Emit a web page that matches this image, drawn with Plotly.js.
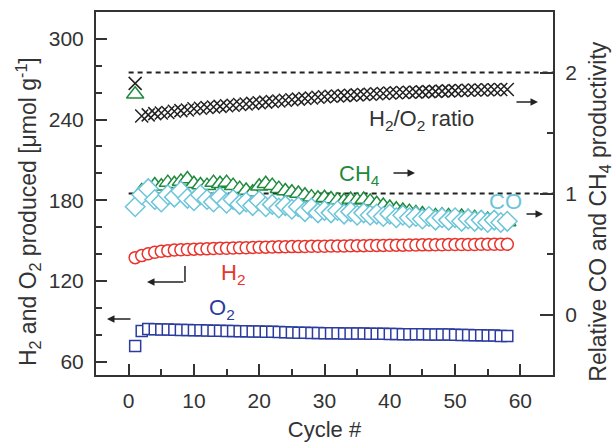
<!DOCTYPE html>
<html>
<head>
<meta charset="utf-8">
<script src="https://cdn.plot.ly/plotly-3.0.1.min.js"></script>
<style>html,body{margin:0;padding:0;background:#fff;}#chart{width:615px;height:442px;}</style>
</head>
<body>
<div id="chart"></div>
<script>
// ---- data ----
var cycles = [1,2,3,4,5,6,7,8,9,10,11,12,13,14,15,16,17,18,19,20,21,22,23,24,25,26,27,28,29,30,
              31,32,33,34,35,36,37,38,39,40,41,42,43,44,45,46,47,48,49,50,51,52,53,54,55,56,57,58];
var ratioCycles = cycles;

var h2 = [137.3,138.8,140.2,141.3,142.0,142.5,142.9,143.2,143.4,143.6,
          143.8,143.9,144.1,144.2,144.3,144.5,144.6,144.7,144.9,145.0,
          145.1,145.2,145.3,145.4,145.5,145.5,145.6,145.7,145.7,145.8,
          145.9,146.0,146.0,146.1,146.2,146.2,146.3,146.4,146.4,146.5,
          146.6,146.6,146.7,146.7,146.8,146.8,146.9,146.9,147.0,147.0,
          147.0,147.1,147.1,147.2,147.2,147.2,147.3,147.3];

var o2 = [71.6,82.8,84.2,84.0,83.8,83.8,83.6,83.5,83.4,83.3,
          83.2,83.1,83.0,82.9,82.8,82.7,82.6,82.5,82.4,82.3,
          82.2,82.1,82.0,81.8,81.6,81.5,81.4,81.3,81.2,81.1,
          81.0,81.0,80.9,80.9,80.8,80.8,80.7,80.7,80.6,80.5,
          80.5,80.4,80.4,80.3,80.3,80.2,80.2,80.1,80.1,80.0,
          79.8,79.7,79.6,79.5,79.4,79.3,79.1,79.0];

var ratio = [1.91,1.64,1.65,1.66,1.665,1.67,1.68,1.685,1.69,1.70,
             1.705,1.71,1.715,1.72,1.725,1.73,1.735,1.74,1.745,1.75,
             1.755,1.76,1.765,1.77,1.775,1.78,1.785,1.79,1.795,1.80,
             1.803,1.806,1.809,1.812,1.815,1.818,1.821,1.824,1.827,1.83,
             1.832,1.834,1.836,1.838,1.84,1.842,1.844,1.846,1.848,1.85,
             1.852,1.854,1.855,1.856,1.857,1.858,1.859,1.86];

var ch4 = [1.82,1.02,1.05,1.07,1.06,1.09,1.08,1.10,1.12,1.08,
           1.07,1.065,1.09,1.08,1.09,1.065,1.04,1.025,1.01,1.06,
           1.08,1.065,1.04,1.02,1.01,1.00,0.985,0.97,0.96,0.965,
           0.955,0.945,0.94,0.95,0.945,0.95,0.935,0.915,0.90,0.885,
           0.87,0.86,0.85,0.84,0.83,0.81,0.815,0.82,0.815,0.81,
           0.81,0.805,0.80,0.795,0.785,0.78,0.77,0.765];

var co = [0.89,0.99,1.04,0.95,0.93,0.99,0.97,1.02,0.96,0.94,
          0.99,0.95,0.93,0.97,0.92,0.95,0.91,0.93,0.90,0.94,
          0.89,0.91,0.88,0.90,0.87,0.89,0.85,0.88,0.84,0.86,
          0.84,0.86,0.83,0.85,0.82,0.84,0.82,0.83,0.81,0.83,
          0.80,0.82,0.80,0.81,0.79,0.81,0.78,0.80,0.78,0.80,
          0.77,0.79,0.77,0.78,0.76,0.78,0.76,0.77];

var refX = [0, 65];
var ratioRef = [2, 2];
var prodRef = [1, 1];

var xTicks = [0,10,20,30,40,50,60];
var yTicks = [60,120,180,240,300];
var y2Ticks = [0,1,2];

// ---- styles ----
var ink = '#333333';
var font = 'Liberation Sans, Arial, Helvetica, sans-serif';

var traces = [
  {x: refX, y: ratioRef, yaxis: 'y2', mode: 'lines', line: {color: '#222', width: 2, dash: '5px,4px'}, hoverinfo: 'skip'},
  {x: refX, y: prodRef, yaxis: 'y2', mode: 'lines', line: {color: '#222', width: 2, dash: '5px,4px'}, hoverinfo: 'skip'},
  {x: cycles, y: h2, name: 'H2', mode: 'markers',
   marker: {symbol: 'circle', size: 12, color: '#ffffff', line: {color: '#e8342c', width: 1.5}}},
  {x: cycles, y: o2, name: 'O2', mode: 'markers',
   marker: {symbol: 'square', size: 11, color: '#ffffff', line: {color: '#2b3b9e', width: 1.5}}},
  {x: ratioCycles, y: ratio, yaxis: 'y2', name: 'H2/O2 ratio', mode: 'markers',
   marker: {symbol: 'x-thin', size: 13, color: '#222', line: {color: '#222', width: 1.5}}},
  {x: cycles, y: ch4, yaxis: 'y2', name: 'CH4', mode: 'markers',
   marker: {symbol: 'triangle-up', size: 15, color: '#ffffff', line: {color: '#1f8a3c', width: 1.5}}},
  {x: cycles, y: co, yaxis: 'y2', name: 'CO', mode: 'markers',
   marker: {symbol: 'diamond', size: 15, color: '#ffffff', line: {color: '#6cc5d9', width: 1.5}}}
];

function arrow(x, y, ax, ay, yref) {
  return {x: x, y: y, xref: 'x', yref: yref || 'y', text: '', showarrow: true,
          ax: ax, ay: ay, arrowhead: 2, arrowsize: 1, arrowwidth: 1.5, arrowcolor: '#222', standoff: 0};
}
function label(x, y, txt, color) {
  return {x: x, y: y, xref: 'x', yref: 'y', text: txt, showarrow: false,
          font: {family: font, size: 22, color: color}, xanchor: 'center', yanchor: 'middle'};
}

var layout = {
  width: 615, height: 442,
  margin: {l: 96, r: 62, t: 12, b: 67},
  paper_bgcolor: '#ffffff', plot_bgcolor: '#ffffff',
  showlegend: false,
  font: {family: font, size: 21, color: ink},
  xaxis: {
    range: [-5, 65], tickvals: xTicks, ticks: 'inside', ticklen: 11, tickwidth: 2, tickcolor: ink,
    minor: {dtick: 5, tick0: 0, ticks: 'inside', ticklen: 6, tickwidth: 2, tickcolor: ink},
    showline: true, linecolor: ink, linewidth: 2, mirror: true,
    showgrid: false, zeroline: false, ticklabelstandoff: 6,
    tickfont: {family: font, size: 21, color: ink},
    title: {text: 'Cycle #', font: {family: font, size: 22, color: ink}, standoff: 12}
  },
  yaxis: {
    range: [50, 320], tickvals: yTicks, ticks: 'inside', ticklen: 11, tickwidth: 2, tickcolor: ink,
    minor: {dtick: 20, tick0: 0, ticks: 'inside', ticklen: 6, tickwidth: 2, tickcolor: ink},
    showline: true, linecolor: ink, linewidth: 2,
    showgrid: false, zeroline: false, ticklabelstandoff: 6,
    tickfont: {family: font, size: 21, color: ink}
  },
  yaxis2: {
    range: [-0.5, 2.5], overlaying: 'y', side: 'right', tickvals: y2Ticks,
    ticks: 'inside', ticklen: 13, tickwidth: 2, tickcolor: ink,
    minor: {dtick: 0.5, tick0: 0, ticks: 'inside', ticklen: 6, tickwidth: 2, tickcolor: ink},
    showline: true, linecolor: ink, linewidth: 2,
    showgrid: false, zeroline: false, ticklabelstandoff: 6,
    tickfont: {family: font, size: 21, color: ink}
  },
  shapes: [
    {type: 'line', xref: 'x', yref: 'y', x0: 8.63, x1: 8.63, y0: 119.2, y1: 131.1,
     line: {color: '#222', width: 1.5}}
  ],
  annotations: [
    {xref: 'paper', yref: 'paper', x: -0.15, y: 0.45, xanchor: 'center', yanchor: 'middle',
     textangle: -90, showarrow: false,
     text: 'H<sub>2</sub> and O<sub>2</sub> produced [μmol g<sup>-1</sup>]',
     font: {family: font, size: 23, color: ink}},
    {xref: 'paper', yref: 'paper', x: 1.103, y: 0.45, xanchor: 'center', yanchor: 'middle',
     textangle: -90, showarrow: false,
     text: 'Relative CO and CH<sub>4</sub> productivity',
     font: {family: font, size: 23, color: ink}},
    label(44.93, 239.7, 'H<sub>2</sub>/O<sub>2</sub> ratio', ink),
    label(35.4, 198.8, 'CH<sub>4</sub>', '#1f8a3c'),
    label(57.65, 178.7, 'CO', '#6cc5d9'),
    label(15.98, 125.1, 'H<sub>2</sub>', '#e8342c'),
    label(14.3, 99.1, 'O<sub>2</sub>', '#2b3b9e'),
    arrow(62.7, 253.1, -23, 0),
    arrow(43.86, 200.25, -23, 0),
    arrow(63.47, 169.75, -18, 0),
    arrow(2.81, 119.2, 38, 0),
    arrow(-3.32, 91.65, 25, 0)
  ]
};

Plotly.newPlot('chart', traces, layout, {staticPlot: true, displayModeBar: false});
</script>
</body>
</html>
